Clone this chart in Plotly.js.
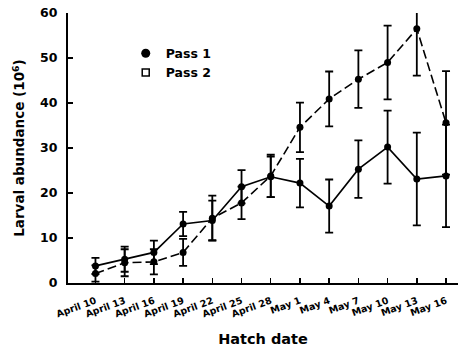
<!DOCTYPE html>
<html>
<head>
<meta charset="utf-8">
<script src="https://cdn.plot.ly/plotly-3.0.1.min.js"></script>
<style>html,body{margin:0;padding:0;background:#fff;}#chart{width:458px;height:348px;}</style>
</head>
<body>
<div id="chart"></div>
<script>
const dates = ['April 10','April 13','April 16','April 19','April 22','April 25','April 28','May 1','May 4','May 7','May 10','May 13','May 16'];
const pass1 = [2.1, 4.5, 4.7, 6.8, 14.4, 17.8, 23.8, 34.6, 40.9, 45.3, 49.0, 56.5, 35.6];
const pass1ErrPlus = [1.8, 3.0, 2.8, 3.0, 5.0, 3.6, 4.7, 5.5, 6.1, 6.4, 8.2, 4.5, 11.5];
const pass1ErrMinus = [1.8, 3.0, 2.8, 3.0, 5.0, 3.6, 4.7, 5.5, 6.1, 6.4, 8.2, 10.4, 11.5];
const pass2 = [3.8, 5.3, 6.8, 13.1, 13.9, 21.4, 23.6, 22.2, 17.1, 25.3, 30.2, 23.1, 23.8];
const pass2Err = [1.8, 2.8, 2.6, 2.7, 4.4, 3.7, 4.5, 5.4, 5.9, 6.4, 8.1, 10.3, 11.4];
const yTicks = [0, 10, 20, 30, 40, 50, 60];

const bold = {family: 'DejaVu Sans', size: 12.5, color: '#000', weight: 700};

const traces = [
  {
    x: dates, y: pass1, type: 'scatter', mode: 'lines+markers', showlegend: false,
    line: {color: '#000', width: 1.6, dash: '9px,4px'},
    marker: {symbol: 'circle', size: 7, color: '#000'},
    error_y: {type: 'data', symmetric: false, array: pass1ErrPlus, arrayminus: pass1ErrMinus, color: '#000', thickness: 1.8, width: 4},
    cliponaxis: false
  },
  {
    x: dates, y: pass2, type: 'scatter', mode: 'lines+markers', showlegend: false,
    line: {color: '#000', width: 1.6},
    marker: {symbol: 'circle', size: 7, color: '#000'},
    error_y: {type: 'data', array: pass2Err, color: '#000', thickness: 1.8, width: 4},
    cliponaxis: false
  },
  {
    x: [null], y: [null], type: 'scatter', mode: 'markers', name: 'Pass 1',
    marker: {symbol: 'circle', size: 9, color: '#000'}
  },
  {
    x: [null], y: [null], type: 'scatter', mode: 'markers', name: 'Pass 2',
    marker: {symbol: 'square-open', size: 7, color: '#000', line: {width: 1.5}}
  }
];

const layout = {
  width: 458, height: 348,
  margin: {l: 68, r: 0, t: 13, b: 65},
  paper_bgcolor: '#fff', plot_bgcolor: '#fff',
  showlegend: true,
  legend: {x: 0.148, y: 0.905, xanchor: 'left', yanchor: 'top', bgcolor: 'rgba(0,0,0,0)', font: bold, tracegroupgap: 0},
  xaxis: {
    type: 'category', range: [-0.94, 12.41],
    showline: true, linecolor: '#000', linewidth: 2,
    ticks: 'inside', ticklen: 5, tickwidth: 1.5, tickcolor: '#000',
    showgrid: false, zeroline: false,
    tickangle: -20, tickfont: {family: 'DejaVu Sans', size: 9.5, color: '#000', weight: 700},
    ticklabelstandoff: 7,
    title: {text: 'Hatch date', font: {family: 'DejaVu Sans', size: 14.5, color: '#000', weight: 700}, standoff: 16}
  },
  yaxis: {
    range: [0, 60], tickvals: yTicks, ticktext: yTicks.map(String),
    showline: true, linecolor: '#000', linewidth: 2,
    ticks: 'inside', ticklen: 5, tickwidth: 1.5, tickcolor: '#000',
    showgrid: false, zeroline: false,
    tickfont: {family: 'DejaVu Sans', size: 12.5, color: '#000', weight: 700},
    ticklabelstandoff: 6,
    title: {text: 'Larval abundance (10<sup>6</sup>)', font: {family: 'DejaVu Sans', size: 13.5, color: '#000', weight: 700}, standoff: 12}
  }
};

Plotly.newPlot('chart', traces, layout, {displayModeBar: false, staticPlot: true});
</script>
</body>
</html>
